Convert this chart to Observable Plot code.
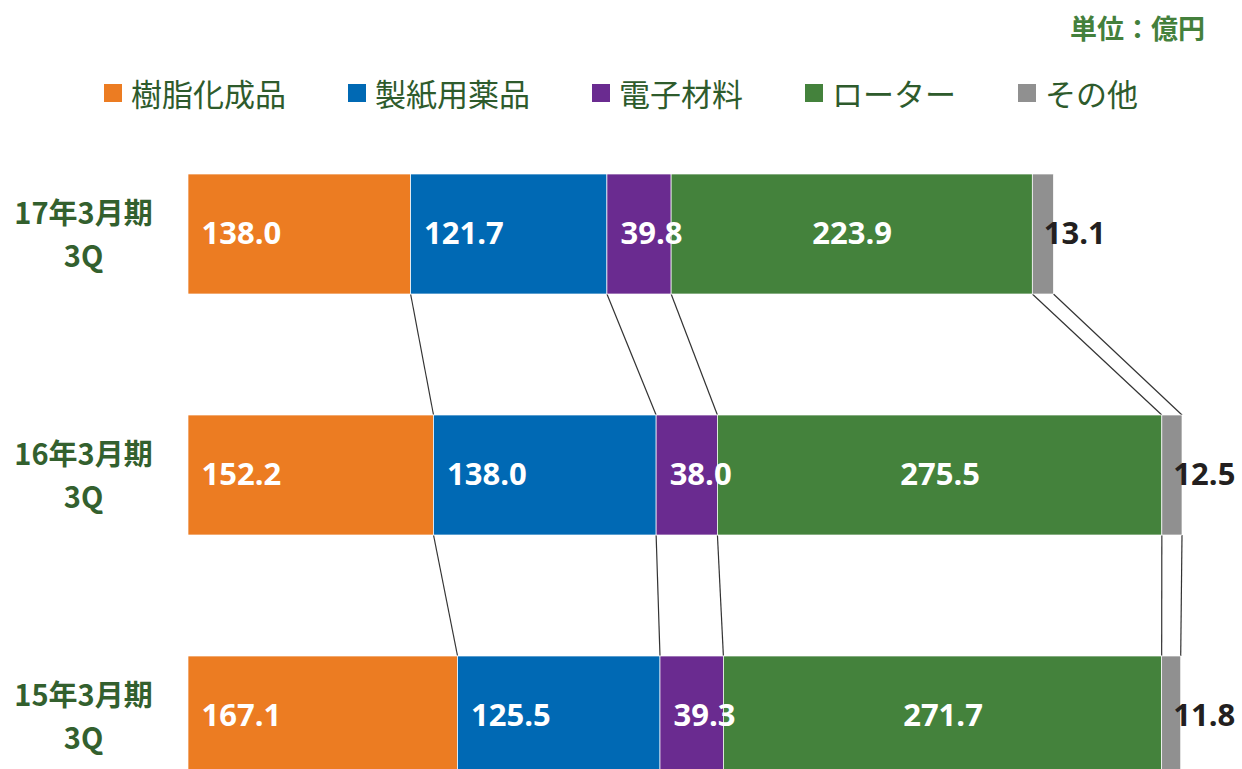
<!DOCTYPE html>
<html>
<head>
<meta charset="utf-8">
<script src="https://cdn.jsdelivr.net/npm/d3@7"></script>
<script src="https://cdn.jsdelivr.net/npm/@observablehq/plot@0.6"></script>
<style>
html, body { margin: 0; padding: 0; background: #fff; overflow: hidden; width: 1242px; height: 769px; }
#header { position: relative; height: 130px; width: 1242px; font-family: "Noto Sans CJK JP", "Noto Sans", sans-serif; }
#unit { position: absolute; right: 37px; top: 10px; font-size: 27px; font-weight: 700; color: #44803c; line-height: 36px; }
#legend { position: absolute; left: 0; width: 1242px; top: 73px; height: 40px; display: flex; justify-content: center; align-items: center; gap: 62px; }
.item { display: flex; align-items: center; gap: 9px; font-size: 31px; color: #2e5b2c; line-height: 40px; }
.sw { width: 18px; height: 18px; display: inline-block; }
#chart svg { display: block; }
</style>
</head>
<body>
<div id="header">
  <div id="unit"></div>
  <div id="legend"></div>
</div>
<div id="chart"></div>
<script>
// ---- data ----
const categories = ["17年3月期\n3Q", "16年3月期\n3Q", "15年3月期\n3Q"];
const seriesNames = ["樹脂化成品", "製紙用薬品", "電子材料", "ローター", "その他"];
const resinValues = [138.0, 152.2, 167.1];
const paperValues = [121.7, 138.0, 125.5];
const electronicValues = [39.8, 38.0, 39.3];
const rotorValues = [223.9, 275.5, 271.7];
const otherValues = [13.1, 12.5, 11.8];
const seriesColors = ["#ec7c22", "#0069b4", "#6a2b90", "#44823c", "#909090"];
const unitLabel = "単位：億円";

// ---- build table ----
const seriesValues = [resinValues, paperValues, electronicValues, rotorValues, otherValues];
const rows = [];
const ends = [];
const totals = [];
categories.forEach((cat, i) => {
  let cum = 0;
  const e = [];
  seriesNames.forEach((s, j) => {
    const v = seriesValues[j][i];
    rows.push({cat, series: s, value: v, x1: cum, x2: cum + v});
    cum += v;
    e.push(cum);
  });
  ends.push(e);
  totals.push(cum);
});

// ---- header ----
document.getElementById("unit").textContent = unitLabel;
const legend = document.getElementById("legend");
seriesNames.forEach((s, j) => {
  const item = document.createElement("div");
  item.className = "item";
  const sw = document.createElement("span");
  sw.className = "sw";
  sw.style.background = seriesColors[j];
  const t = document.createElement("span");
  t.textContent = s;
  item.appendChild(sw);
  item.appendChild(t);
  legend.appendChild(item);
});

// ---- connectors between stacked bars ----
function connectors(index, scales) {
  const x = scales.x, y = scales.y;
  const bw = typeof y.bandwidth === "function" ? y.bandwidth() : y.bandwidth;
  const g = d3.create("svg:g").attr("stroke", "#333").attr("stroke-width", 1.2).attr("fill", "none");
  for (let i = 0; i < categories.length - 1; i++) {
    const up = ends[i], lo = ends[i + 1];
    up.forEach((v, j) => {
      g.append("line")
        .attr("x1", x(v)).attr("y1", y(categories[i]) + bw)
        .attr("x2", x(lo[j])).attr("y2", y(categories[i + 1]));
    });
  }
  return g.node();
}

const labelFont = {fontSize: 31, fontWeight: 700, fontFamily: "'Open Sans', 'Noto Sans', sans-serif"};

const chart = Plot.plot({
  width: 1242,
  height: 690,
  marginLeft: 188,
  marginRight: 60,
  marginTop: 19,
  marginBottom: 19,
  style: {background: "white", fontFamily: "'Open Sans', sans-serif"},
  x: {domain: [0, d3.max(totals)], axis: null},
  y: {domain: categories, paddingInner: 0.504, paddingOuter: 0.1, axis: null, label: null},
  color: {domain: seriesNames, range: seriesColors},
  marks: [
    connectors,
    Plot.barX(rows, {x1: "x1", x2: "x2", y: "cat", fill: "series", stroke: "white", strokeWidth: 0.7}),
    Plot.text(rows.filter(d => d.series !== "ローター" && d.series !== "その他"), {
      x: "x1", y: "cat", text: d => d.value.toFixed(1), textAnchor: "start", dx: 13, fill: "white", ...labelFont
    }),
    Plot.text(rows.filter(d => d.series === "ローター"), {
      x: d => (d.x1 + d.x2) / 2, y: "cat", text: d => d.value.toFixed(1), textAnchor: "middle", fill: "white", ...labelFont
    }),
    Plot.text(rows.filter(d => d.series === "その他"), {
      x: "x1", y: "cat", text: d => d.value.toFixed(1), textAnchor: "start", dx: 11, fill: "#231f20", ...labelFont
    }),
    Plot.axisY({
      label: null, tickSize: 0, tickPadding: 105, textAnchor: "middle", fontSize: 29, fontWeight: 700,
      fontFamily: "'Noto Sans CJK JP', sans-serif", lineHeight: 1.5, dy: -3, color: "#33602e", fill: "#33602e"
    })
  ]
});
document.getElementById("chart").appendChild(chart);
</script>
</body>
</html>
